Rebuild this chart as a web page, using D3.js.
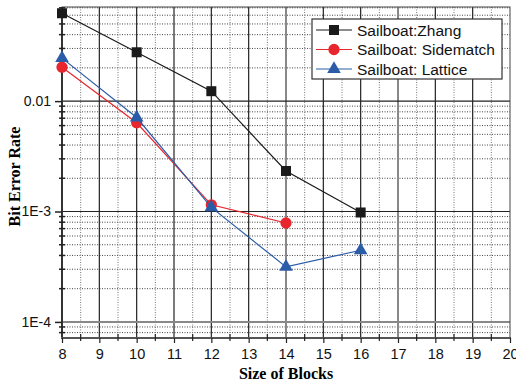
<!DOCTYPE html>
<html>
<head>
<meta charset="utf-8">
<script src="https://cdn.jsdelivr.net/npm/d3@7"></script>
<style>
  body { margin: 0; background: #fff; }
  svg { display: block; }
</style>
</head>
<body>
<svg width="516" height="383"></svg>
<script>
// block sizes on the x axis
var blockSizes = [8, 10, 12, 14, 16];
// bit error rate per method
var zhang = [0.0625, 0.0277, 0.0123, 0.00233, 0.00098];
var sidematch = [0.0203, 0.00637, 0.00115, 0.000787];
var lattice = [0.0245, 0.0071, 0.00109, 0.000315, 0.000446];
var seriesNames = ["Sailboat:Zhang", "Sailboat: Sidematch", "Sailboat: Lattice"];
var xTicks = d3.range(8, 21);
var yTickValues = [0.0001, 0.001, 0.01];
var yTickLabels = ["1E-4", "1E-3", "0.01"];

var svg = d3.select("svg");
// plot area edges (don't use "top", it's window.top)
var pL = 62, pR = 510, pT = 7, pB = 338;

var x = d3.scaleLinear().domain([8, 20]).range([pL, pR]);
var y = d3.scaleLog().domain([7.15e-5, 0.0712]).range([pB, pT]);

var grid = svg.append("g");

// minor horizontal grid (2..9 of each decade)
var minorY = [];
[1e-5, 1e-4, 1e-3, 1e-2].forEach(function(d) {
  for (var k = 2; k <= 9; k++) {
    var v = d * k;
    if (v > y.domain()[0] && v < y.domain()[1]) minorY.push(v);
  }
});
grid.selectAll(".hminor").data(minorY).enter().append("line")
  .attr("x1", pL).attr("x2", pR)
  .attr("y1", function(d) { return y(d); })
  .attr("y2", function(d) { return y(d); })
  .attr("stroke", "#444").attr("stroke-width", 1)
  .attr("stroke-dasharray", "1,1.5");

// minor vertical grid at half steps
var halfX = xTicks.slice(0, -1).map(function(d) { return d + 0.5; });
grid.selectAll(".vminor").data(halfX).enter().append("line")
  .attr("y1", pT).attr("y2", pB)
  .attr("x1", function(d) { return x(d); })
  .attr("x2", function(d) { return x(d); })
  .attr("stroke", "#777").attr("stroke-width", 1)
  .attr("stroke-dasharray", "1,1.5");

// major grid
grid.selectAll(".vmajor").data(xTicks.slice(1, -1)).enter().append("line")
  .attr("y1", pT).attr("y2", pB)
  .attr("x1", function(d) { return x(d); })
  .attr("x2", function(d) { return x(d); })
  .attr("stroke", function(d) { return (d == 14 || d == 17) ? "#888" : "#222"; })
  .attr("stroke-width", function(d) { return (d == 14 || d == 17) ? 2 : 1.2; });

grid.selectAll(".hmajor").data(yTickValues).enter().append("line")
  .attr("x1", pL).attr("x2", pR)
  .attr("y1", function(d) { return y(d); })
  .attr("y2", function(d) { return y(d); })
  .attr("stroke", function(d) { return d == 0.0001 ? "#888" : "#222"; })
  .attr("stroke-width", function(d) { return d == 0.0001 ? 2 : 1.2; });

// frame
svg.append("rect")
  .attr("x", pL).attr("y", pT)
  .attr("width", pR - pL).attr("height", pB - pT)
  .attr("fill", "none").attr("stroke", "#444").attr("stroke-width", 1);
svg.append("line").attr("x1", pL).attr("x2", pL).attr("y1", pT).attr("y2", pB + 1)
  .attr("stroke", "#333").attr("stroke-width", 2);
svg.append("line").attr("x1", pL - 1).attr("x2", pR + 1).attr("y1", pB).attr("y2", pB)
  .attr("stroke", "#555").attr("stroke-width", 2);

// axes
var xAxis = d3.axisBottom(x).tickValues(xTicks).tickSize(5).tickPadding(6)
  .tickFormat(d3.format("d"));
var gx = svg.append("g").attr("transform", "translate(0," + pB + ")").call(xAxis);
gx.select(".domain").remove();
gx.selectAll("text").style("font-family", "Liberation Sans, Arial, sans-serif")
  .style("font-size", "14.5px").attr("fill", "#111");
gx.selectAll("line").attr("stroke", "#222").attr("stroke-width", 1.2);

var yAxis = d3.axisLeft(y).tickValues(yTickValues).tickSize(7).tickPadding(4)
  .tickFormat(function(d, i) { return yTickLabels[i]; });
var gy = svg.append("g").attr("transform", "translate(" + pL + ",0)").call(yAxis);
gy.select(".domain").remove();
gy.selectAll("text").style("font-family", "Liberation Sans, Arial, sans-serif")
  .style("font-size", "14px").attr("fill", "#111");
gy.selectAll("line").attr("stroke", "#222").attr("stroke-width", 1.5);

// minor ticks on left
svg.selectAll(".ymt").data(minorY).enter().append("line")
  .attr("x1", pL - 3).attr("x2", pL + 3)
  .attr("y1", function(d) { return y(d); })
  .attr("y2", function(d) { return y(d); })
  .attr("stroke", "#222").attr("stroke-width", 1.5);
// minor ticks on bottom
svg.selectAll(".xmt").data(halfX).enter().append("line")
  .attr("y1", pB - 4).attr("y2", pB + 3)
  .attr("x1", function(d) { return x(d); })
  .attr("x2", function(d) { return x(d); })
  .attr("stroke", "#222").attr("stroke-width", 1.2);

// axis titles
svg.append("text")
  .attr("x", (pL + pR) / 2).attr("y", 379)
  .attr("text-anchor", "middle")
  .style("font-family", "Liberation Serif, Times New Roman, serif")
  .style("font-weight", "bold").style("font-size", "16px")
  .text("Size of Blocks");
svg.append("text")
  .attr("transform", "translate(20," + ((pT + pB) / 2 + 4) + ") rotate(-90)")
  .attr("text-anchor", "middle")
  .style("font-family", "Liberation Serif, Times New Roman, serif")
  .style("font-weight", "bold").style("font-size", "16px")
  .text("Bit Error Rate");

// series
var series = [
  { name: seriesNames[0], values: zhang, color: "#1a1a1a", shape: d3.symbolSquare, size: 100 },
  { name: seriesNames[1], values: sidematch, color: "#e8262d", shape: d3.symbolCircle, size: 100 },
  { name: seriesNames[2], values: lattice, color: "#2b5ca8", shape: d3.symbolTriangle, size: 80 }
];

var line = d3.line()
  .x(function(d) { return x(d[0]); })
  .y(function(d) { return y(d[1]); });

series.forEach(function(s) {
  var pts = s.values.map(function(v, i) { return [blockSizes[i], v]; });
  svg.append("path").datum(pts)
    .attr("d", line).attr("fill", "none")
    .attr("stroke", s.color).attr("stroke-width", 1.2);
  svg.selectAll(null).data(pts).enter().append("path")
    .attr("transform", function(d) { return "translate(" + x(d[0]) + "," + y(d[1]) + ")"; })
    .attr("d", d3.symbol().type(s.shape).size(s.size))
    .attr("fill", s.color);
});

// legend
var lg = svg.append("g");
lg.append("rect").attr("x", 312).attr("y", 19).attr("width", 190).attr("height", 60)
  .attr("fill", "#fff").attr("stroke", "#333").attr("stroke-width", 1.2);
series.forEach(function(s, i) {
  var yy = 30 + i * 19.5;
  lg.append("line").attr("x1", 316).attr("x2", 352).attr("y1", yy).attr("y2", yy)
    .attr("stroke", s.color).attr("stroke-width", 1.2);
  lg.append("path").attr("transform", "translate(334," + yy + ")")
    .attr("d", d3.symbol().type(s.shape).size(s.size)).attr("fill", s.color);
  lg.append("text").attr("x", 357).attr("y", yy + 5.5)
    .style("font-family", "Liberation Sans, Arial, sans-serif")
    .style("font-size", "15.5px").attr("fill", "#111")
    .text(s.name);
});
</script>
</body>
</html>
